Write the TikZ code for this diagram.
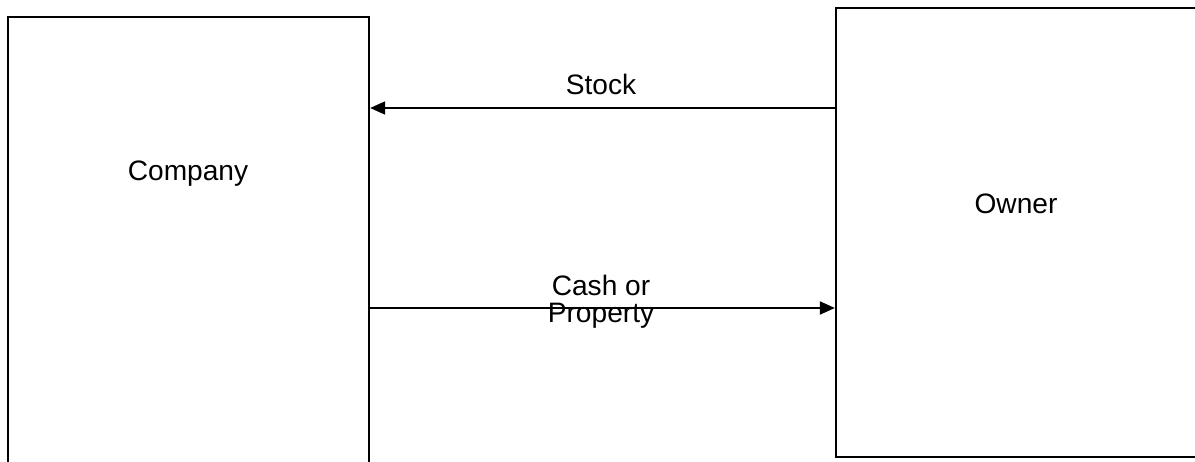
\documentclass[tikz,border=0pt]{standalone}
\usepackage{fontspec}
\setmainfont{Liberation Sans}
\usetikzlibrary{arrows.meta,positioning}

\begin{document}
\begin{tikzpicture}[
        partybox/.style={rectangle, draw=black, line width=1.3pt, inner sep=0pt},
        lbl/.style={font=\fontsize{16}{15}\selectfont, align=center, inner sep=0pt},
        flow/.style={line width=1.1pt, -{Triangle[length=0.3cm, width=0.26cm]}}
      ]
        \useasboundingbox (0,0) rectangle (23.9,-9.24);
        \clip (0,0) rectangle (23.9,-9.24);

        % Company box (runs off the bottom)
        \node[partybox, minimum width=7.22cm, minimum height=9.06cm] (company) at (3.77,-4.87) {};
        \node[lbl, anchor=base] (companylbl) at (3.76,-3.62) {Company};

        % Owner box (runs off the right)
        \node[partybox, minimum width=7.28cm, minimum height=8.98cm] (owner) at (20.36,-4.65) {};
        \node[lbl, anchor=base] (ownerlbl) at (20.32,-4.26) {Owner};

        % Stock: owner -> company
        \coordinate (stocky) at (0,-2.16);
        \draw[flow] (owner.west |- stocky) -- (company.east |- stocky);
        \node[lbl, anchor=base] (stocklbl) at (12.02,-1.9) {Stock};

        % Cash or property: company -> owner
        \coordinate (cashy) at (0,-6.16);
        \draw[flow] (company.east |- cashy) -- (owner.west |- cashy);
        \node[lbl, anchor=base] (cashlbl) at (12.02,-6.44) {Cash or\\Property};
      \end{tikzpicture}
\end{document}
